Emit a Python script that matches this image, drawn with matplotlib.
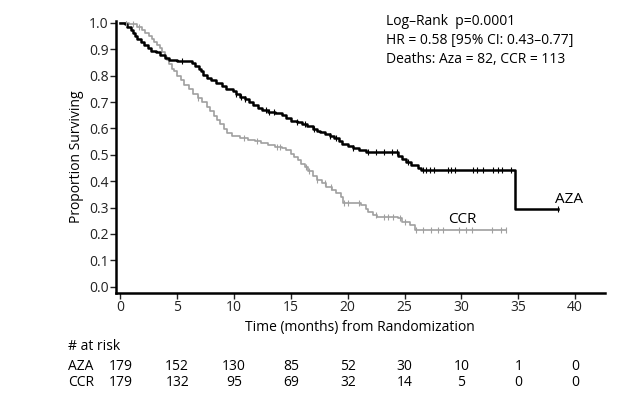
import numpy as np
import matplotlib
matplotlib.use("Agg")
import matplotlib.pyplot as plt
import matplotlib.transforms as mtransforms

plt.rcParams['font.family'] = ['Open Sans', 'DejaVu Sans']

# Kaplan-Meier steps (time in months, survival after the step)
aza_t = [0.0, 0.4, 0.6, 0.9, 1.1, 1.3, 1.5, 1.8, 2.1, 2.4, 2.7, 3.1, 3.5, 3.9, 4.3, 5.0,
         6.3, 6.6, 6.9, 7.1, 7.3, 7.6, 8.0, 8.4, 8.9, 9.3, 9.9, 10.2, 10.5, 11.0, 11.3,
         11.7, 12.1, 12.5, 13.0, 13.6, 14.2, 14.6, 15.0, 15.5, 16.0, 16.4, 16.9, 17.3,
         17.6, 18.0, 18.4, 18.8, 19.2, 19.5, 20.0, 20.5, 21.0, 21.6, 24.4, 24.8, 25.1,
         25.6, 26.2, 26.4, 34.7, 38.5]
aza_s = [1.0, 0.994, 0.983, 0.972, 0.961, 0.950, 0.939, 0.928, 0.916, 0.905, 0.894, 0.888,
         0.877, 0.866, 0.860, 0.855, 0.849, 0.838, 0.827, 0.816, 0.804, 0.793, 0.782, 0.771,
         0.760, 0.749, 0.743, 0.732, 0.721, 0.710, 0.699, 0.688, 0.677, 0.670, 0.664, 0.658,
         0.652, 0.641, 0.630, 0.623, 0.617, 0.610, 0.599, 0.592, 0.585, 0.578, 0.570, 0.563,
         0.551, 0.540, 0.532, 0.524, 0.517, 0.509, 0.497, 0.485, 0.472, 0.460, 0.451, 0.442,
         0.293, 0.293]
aza_cens = [5.4, 10.2, 10.6, 11.0, 12.8, 13.1, 13.5, 15.5, 16.2, 17.0, 18.4, 19.0, 20.5,
            21.8, 22.5, 23.2, 23.9, 24.3, 25.3, 26.6, 26.9, 27.2, 27.6, 28.8, 29.1, 29.4,
            31.0, 31.4, 31.9, 32.8, 33.2, 33.6, 34.4, 38.5]

ccr_t = [0.0, 0.8, 1.5, 1.9, 2.2, 2.5, 2.8, 3.0, 3.2, 3.5, 3.7, 3.9, 4.1, 4.3, 4.5, 4.7,
         5.0, 5.3, 5.6, 6.0, 6.4, 6.8, 7.2, 7.6, 7.9, 8.2, 8.5, 8.8, 9.1, 9.4, 9.8, 10.5,
         11.2, 11.8, 12.4, 13.0, 13.6, 14.2, 14.6, 15.0, 15.3, 15.6, 15.9, 16.2, 16.5,
         16.9, 17.3, 17.7, 18.1, 18.6, 19.0, 19.4, 19.6, 21.2, 21.6, 21.8, 22.2, 22.6,
         24.4, 24.8, 25.5, 25.9, 33.9]
ccr_s = [1.0, 0.994, 0.983, 0.972, 0.961, 0.950, 0.939, 0.928, 0.916, 0.905, 0.888, 0.872,
         0.861, 0.844, 0.827, 0.816, 0.799, 0.782, 0.765, 0.749, 0.732, 0.715, 0.699, 0.682,
         0.665, 0.648, 0.631, 0.615, 0.598, 0.581, 0.570, 0.564, 0.557, 0.551, 0.545, 0.538,
         0.531, 0.525, 0.518, 0.505, 0.492, 0.479, 0.466, 0.453, 0.440, 0.420, 0.404, 0.392,
         0.378, 0.366, 0.354, 0.341, 0.316, 0.309, 0.296, 0.284, 0.272, 0.265, 0.259, 0.246,
         0.234, 0.215, 0.215]
ccr_cens = [0.5, 1.1, 1.6, 6.8, 10.9, 12.0, 13.8, 14.0, 16.3, 16.6, 17.3, 18.0, 18.5,
            19.7, 20.0, 21.0, 22.5, 23.2, 23.5, 24.0, 24.6, 25.0, 26.0, 26.6, 27.3, 27.9,
            28.4, 29.8, 30.4, 30.9, 32.7, 33.5, 33.9]

risk_times = [0, 5, 10, 15, 20, 25, 30, 35, 40]
aza_risk = [179, 152, 130, 85, 52, 30, 10, 1, 0]
ccr_risk = [179, 132, 95, 69, 32, 14, 5, 0, 0]

stats_lines = ["Log\u2013Rank  p=0.0001",
               "HR = 0.58 [95% CI: 0.43\u20130.77]",
               "Deaths: Aza = 82, CCR = 113"]


def surv_at(times, surv, x):
    i = np.searchsorted(times, x, side='right') - 1
    return surv[max(i, 0)]


fig = plt.figure(figsize=(6.26, 4.05), dpi=100)
ax = fig.add_axes([0.185, 0.277, 0.781, 0.671])

gray = '#a0a0a0'
ax.step(ccr_t, ccr_s, where='post', color=gray, lw=1.2)
ax.step(aza_t, aza_s, where='post', color='black', lw=1.8)
ax.plot(ccr_cens, [surv_at(ccr_t, ccr_s, c) for c in ccr_cens], ls='none',
        marker='|', ms=4, mew=0.8, color=gray)
ax.plot(aza_cens, [surv_at(aza_t, aza_s, c) for c in aza_cens], ls='none',
        marker='|', ms=4, mew=0.8, color='black')

ax.set_xlim(-0.4, 42.6)
ax.set_ylim(-0.023, 1.007)
ax.set_xticks(risk_times)
ax.set_yticks(np.arange(0, 1.01, 0.1))
ax.set_yticklabels([f'{v:.1f}' for v in np.arange(0, 1.01, 0.1)])
for side in ['top', 'right']:
    ax.spines[side].set_visible(False)
for side in ['left', 'bottom']:
    ax.spines[side].set_linewidth(1.8)
ax.tick_params(direction='out', length=4, width=1, labelsize=10, pad=1, colors='#222222')
ax.set_ylabel('Proportion Surviving', fontsize=10, labelpad=4)
ax.set_xlabel('Time (months) from Randomization', fontsize=10, labelpad=4)

ax.text(38.2, 0.332, 'AZA', fontsize=11, va='center', ha='left')
ax.text(28.8, 0.256, 'CCR', fontsize=11, va='center', ha='left')

for i, line in enumerate(stats_lines):
    fig.text(386 / 626, 1 - (21.7 + 19 * i) / 405, line, fontsize=10, va='center', ha='left')

trans = mtransforms.blended_transform_factory(ax.transData, fig.transFigure)
fig.text(68 / 626, 1 - 346 / 405, '# at risk', fontsize=10, va='center')
fig.text(68 / 626, 1 - 366 / 405, 'AZA', fontsize=10, va='center')
fig.text(68 / 626, 1 - 383 / 405, 'CCR', fontsize=10, va='center')
for t, a, c in zip(risk_times, aza_risk, ccr_risk):
    ax.text(t, 1 - 366 / 405, str(a), transform=trans, fontsize=10, ha='center', va='center')
    ax.text(t, 1 - 383 / 405, str(c), transform=trans, fontsize=10, ha='center', va='center')

fig.savefig('out.png', dpi=100)
